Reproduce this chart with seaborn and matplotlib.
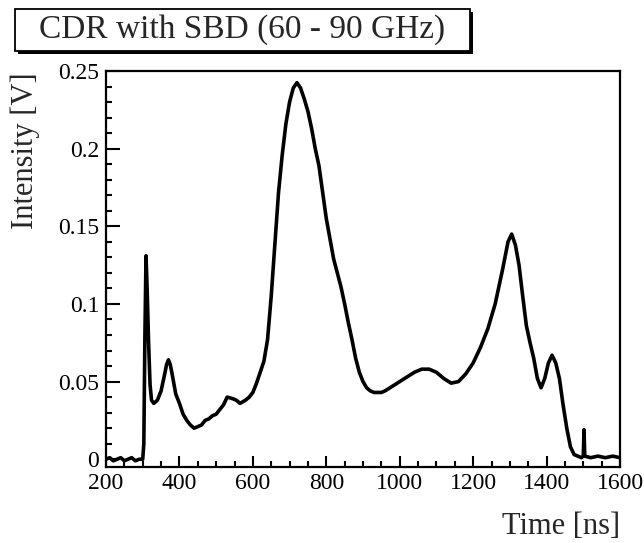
import matplotlib
matplotlib.use("Agg")
import matplotlib.pyplot as plt
import matplotlib.patches as mpatches
from matplotlib.ticker import MultipleLocator
import seaborn as sns
import pandas as pd

# ---- data ----
time_ns = [200, 210, 220, 230, 240, 250, 260, 270, 280, 290, 300,
           303, 306, 309, 312, 316, 320, 324, 330, 340, 350, 360,
           365, 370, 375, 380, 390, 400, 410, 420, 430, 440, 450, 460,
           470, 480, 490, 500, 510, 520, 530, 545, 555, 565, 580, 590,
           600, 610, 620, 630, 640, 650, 660, 670, 680, 690, 700, 710, 720,
           730, 740, 750, 760, 770, 780, 790, 800, 810, 820, 830, 840, 850,
           860, 870, 880, 890, 900, 910, 920, 930, 940, 950, 960, 980, 1000,
           1020, 1040, 1060, 1080, 1100, 1120, 1140, 1160, 1180, 1200, 1220,
           1240, 1260, 1280, 1295, 1305, 1315, 1325, 1335, 1345, 1355, 1365,
           1375, 1385, 1395, 1405, 1415, 1425, 1435, 1445, 1455, 1465, 1475,
           1485, 1495, 1500, 1502, 1504, 1520, 1540, 1560, 1580, 1600]
intensity_v = [0.000, 0.001, -0.001, 0.000, 0.001, -0.001, 0.000, 0.001, -0.001, 0.000, 0.000,
               0.010, 0.080, 0.131, 0.110, 0.075, 0.048, 0.038, 0.036, 0.038, 0.044, 0.055,
               0.061, 0.064, 0.061, 0.055, 0.042, 0.036, 0.029, 0.025, 0.022, 0.020, 0.021, 0.022,
               0.025, 0.026, 0.028, 0.029, 0.032, 0.035, 0.040, 0.039, 0.038, 0.036, 0.038, 0.040,
               0.043, 0.049, 0.056, 0.063, 0.077, 0.105, 0.138, 0.172, 0.196, 0.216, 0.230, 0.239, 0.2425,
               0.239, 0.232, 0.224, 0.213, 0.200, 0.189, 0.172, 0.155, 0.142, 0.129, 0.120, 0.111, 0.100,
               0.088, 0.077, 0.065, 0.056, 0.050, 0.046, 0.044, 0.043, 0.043, 0.043, 0.044, 0.047, 0.050,
               0.053, 0.056, 0.058, 0.058, 0.056, 0.052, 0.049, 0.050, 0.055, 0.062, 0.072,
               0.084, 0.100, 0.122, 0.140, 0.145, 0.138, 0.125, 0.105, 0.086, 0.075, 0.065,
               0.052, 0.046, 0.052, 0.062, 0.067, 0.062, 0.052, 0.035, 0.020, 0.008, 0.003,
               0.002, 0.001, 0.002, 0.019, 0.002, 0.001, 0.002, 0.001, 0.002, 0.001]

title_text = "CDR with SBD (60 - 90 GHz)"
x_label = "Time [ns]"
y_label = "Intensity [V]"

df = pd.DataFrame({"time": time_ns, "intensity": intensity_v})

sns.set_style("ticks")
plt.rcParams["font.family"] = ["Liberation Serif", "DejaVu Serif"]

W, H = 644, 543
fig = plt.figure(figsize=(W / 100, H / 100), dpi=100)

def fx(px):
    return px / W

def fy(py):
    return 1 - py / H

ax_l, ax_r, ax_t, ax_b = 106, 620, 71, 467
ax = fig.add_axes([fx(ax_l), fy(ax_b), fx(ax_r) - fx(ax_l), fy(ax_t) - fy(ax_b)])

sns.lineplot(data=df, x="time", y="intensity", ax=ax, color="black",
             linewidth=2.6, estimator=None, sort=False)

ax.set_xlim(200, 1600)
ax.set_ylim(-0.005, 0.25)
ax.xaxis.set_major_locator(MultipleLocator(200))
ax.xaxis.set_minor_locator(MultipleLocator(50))
ax.yaxis.set_major_locator(MultipleLocator(0.05))
ax.yaxis.set_minor_locator(MultipleLocator(0.01))
ax.set_yticks([0, 0.05, 0.1, 0.15, 0.2, 0.25])
ax.set_yticklabels(["0", "0.05", "0.1", "0.15", "0.2", "0.25"])
ax.set_xticks([200, 400, 600, 800, 1000, 1200, 1400, 1600])
ax.set_xticklabels(["200", "400", "600", "800", "1000", "1200", "1400", "1600"])

ax.tick_params(axis="both", which="both", direction="in", color="black", width=1.5,
               labelsize=17, labelcolor="black", top=False, right=False)
ax.tick_params(axis="y", which="major", length=10, pad=5)
ax.tick_params(axis="y", which="minor", length=4.5)
ax.tick_params(axis="x", which="major", length=8, pad=4)
ax.tick_params(axis="x", which="minor", length=4)
for s in ax.spines.values():
    s.set_visible(True)
    s.set_linewidth(1.6)
    s.set_color("black")
ax.set_xlabel("")
ax.set_ylabel("")

fig.text(fx(620), fy(534), x_label, ha="right", va="baseline", fontsize=22)
fig.text(fx(11), fy(72), y_label, ha="left", va="top", rotation=90, fontsize=22)

# title box with shadow (ROOT style)
bx0, by0, bx1, by1 = 15, 9, 470, 51
shadow = mpatches.Rectangle((fx(bx0 + 3), fy(by1 + 3)), fx(bx1) - fx(bx0), fy(by0) - fy(by1),
                            transform=fig.transFigure, facecolor="black", edgecolor="black",
                            linewidth=0)
box = mpatches.Rectangle((fx(bx0), fy(by1)), fx(bx1) - fx(bx0), fy(by0) - fy(by1),
                         transform=fig.transFigure, facecolor="white", edgecolor="black",
                         linewidth=1.3)
fig.patches.extend([shadow, box])
fig.text(fx(242), fy(30), title_text, ha="center", va="center", fontsize=24)

fig.savefig("out.png", dpi=100)
